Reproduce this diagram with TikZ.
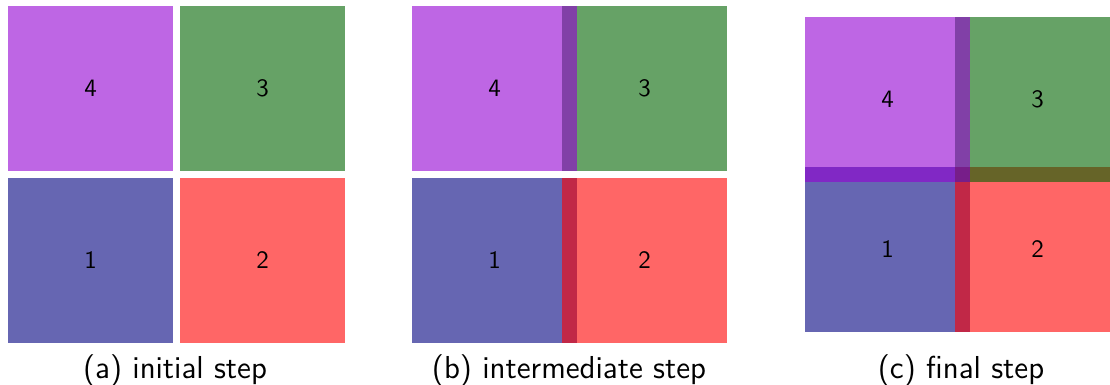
\documentclass[tikz,border=0pt]{standalone}
\definecolor{cviolet}{RGB}{148,0,211}
\definecolor{cgreen}{RGB}{0,100,0}
\definecolor{cnavy}{RGB}{0,0,128}
\definecolor{cred}{RGB}{255,0,0}
\begin{document}
\begin{tikzpicture}[x=0.4pt,y=-0.4pt,
  sq/.style={draw=none,minimum size=66pt,inner sep=0pt,fill opacity=0.6,text opacity=1,
    font=\sffamily\fontsize{10}{12}\selectfont},
  captext/.style={anchor=base,font=\sffamily\fontsize{12.7}{15}\selectfont}]
\clip (0,0) rectangle (1110,385);
\fill[white] (0,0) rectangle (1110,385);
% (a)
\node[sq,fill=cnavy]   (a1) at (90.5,260.5) {1};
\node[sq,fill=cred]    (a2) at (262.5,260.5) {2};
\node[sq,fill=cgreen]  (a3) at (262.5,88.5) {3};
\node[sq,fill=cviolet] (a4) at (90.5,88.5) {4};
\node[captext] (ca) at (175,378) {(a) initial step};
% (b)
\node[sq,fill=cnavy]   (b1) at (494.5,260.5) {1};
\node[sq,fill=cred]    (b2) at (644.5,260.5) {2};
\node[sq,fill=cgreen]  (b3) at (644.5,88.5) {3};
\node[sq,fill=cviolet] (b4) at (494.5,88.5) {4};
\node[captext] (cb) at (569,378) {(b) intermediate step};
% (c)
\node[sq,fill=cnavy]   (c1) at (887.5,249.5) {1};
\node[sq,fill=cred]    (c2) at (1037.5,249.5) {2};
\node[sq,fill=cgreen]  (c3) at (1037.5,99.5) {3};
\node[sq,fill=cviolet] (c4) at (887.5,99.5) {4};
\node[captext] (cc) at (961,378) {(c) final step};
\end{tikzpicture}
\end{document}
